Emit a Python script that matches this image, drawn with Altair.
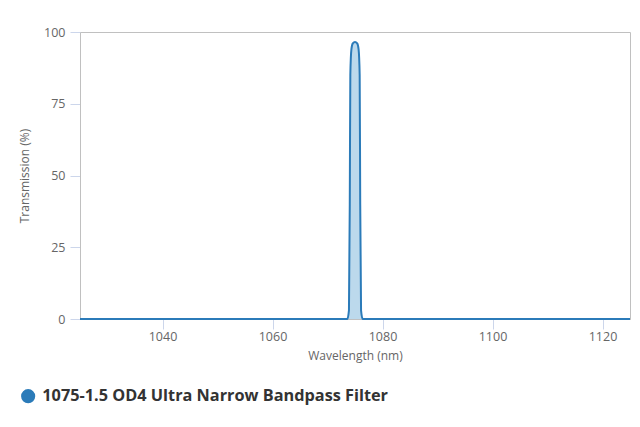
import altair as alt
import pandas as pd

wavelength = [1025, 1073.6, 1073.9, 1074.05, 1074.15, 1074.35, 1074.6, 1075.0, 1075.4, 1075.65, 1075.85, 1075.95, 1076.1, 1076.4, 1125]
transmission = [0, 0, 3, 40, 85, 94, 96, 96.5, 96, 94, 85, 40, 3, 0, 0]
series = "1075-1.5 OD4 Ultra Narrow Bandpass Filter"

df = pd.DataFrame({"Wavelength": wavelength, "Transmission": transmission, "Series": series})

FONT = "Open Sans"
LINE = "#2b7bb9"

x = alt.X("Wavelength:Q", scale=alt.Scale(domain=[1025, 1125], nice=False, zero=False),
          axis=alt.Axis(title="Wavelength (nm)", values=[1040, 1060, 1080, 1100, 1120], format="d",
                        grid=False, tickSize=10, tickColor="#ccd6eb", domainColor="#c0c0c0",
                        labelColor="#666666", labelFont=FONT, labelFontSize=12.5, labelPadding=1,
                        titleColor="#666666", titleFont=FONT, titleFontSize=12, titleFontWeight="normal",
                        titlePadding=8))
y = alt.Y("Transmission:Q", scale=alt.Scale(domain=[0, 100], nice=False),
          axis=alt.Axis(title="Transmission (%)", values=[0, 25, 50, 75, 100], format="d",
                        grid=False, tickSize=10, tickColor="#ccd6eb", domainColor="#c0c0c0",
                        labelColor="#666666", labelFont=FONT, labelFontSize=12.5, labelPadding=5,
                        titleColor="#666666", titleFont=FONT, titleFontSize=12, titleFontWeight="normal",
                        titlePadding=12))

color = alt.Color("Series:N", scale=alt.Scale(domain=[series], range=[LINE]),
                  legend=alt.Legend(title=None, orient="none", legendX=-60, legendY=356,
                                    symbolType="circle", symbolSize=200, symbolStrokeWidth=0,
                                    symbolOpacity=1, labelFont=FONT, labelFontSize=16.3,
                                    labelFontWeight="bold", labelColor="#333333", labelOffset=6,
                                    labelLimit=0, padding=0))

area = alt.Chart(df).mark_area(line={"color": LINE, "strokeWidth": 2}, opacity=1,
                               fill="#bcd9ec", interpolate="monotone").encode(
    x=x, y=y, color=color)

chart = area.properties(
    width=550, height=287,
    padding={"left": 72, "top": 24, "right": 2, "bottom": 90},
    autosize=alt.AutoSizeParams(type="none"),
).configure_view(stroke="#c0c0c0", strokeWidth=1)

chart.save("out.html", embed_options={"renderer": "svg", "actions": False})
